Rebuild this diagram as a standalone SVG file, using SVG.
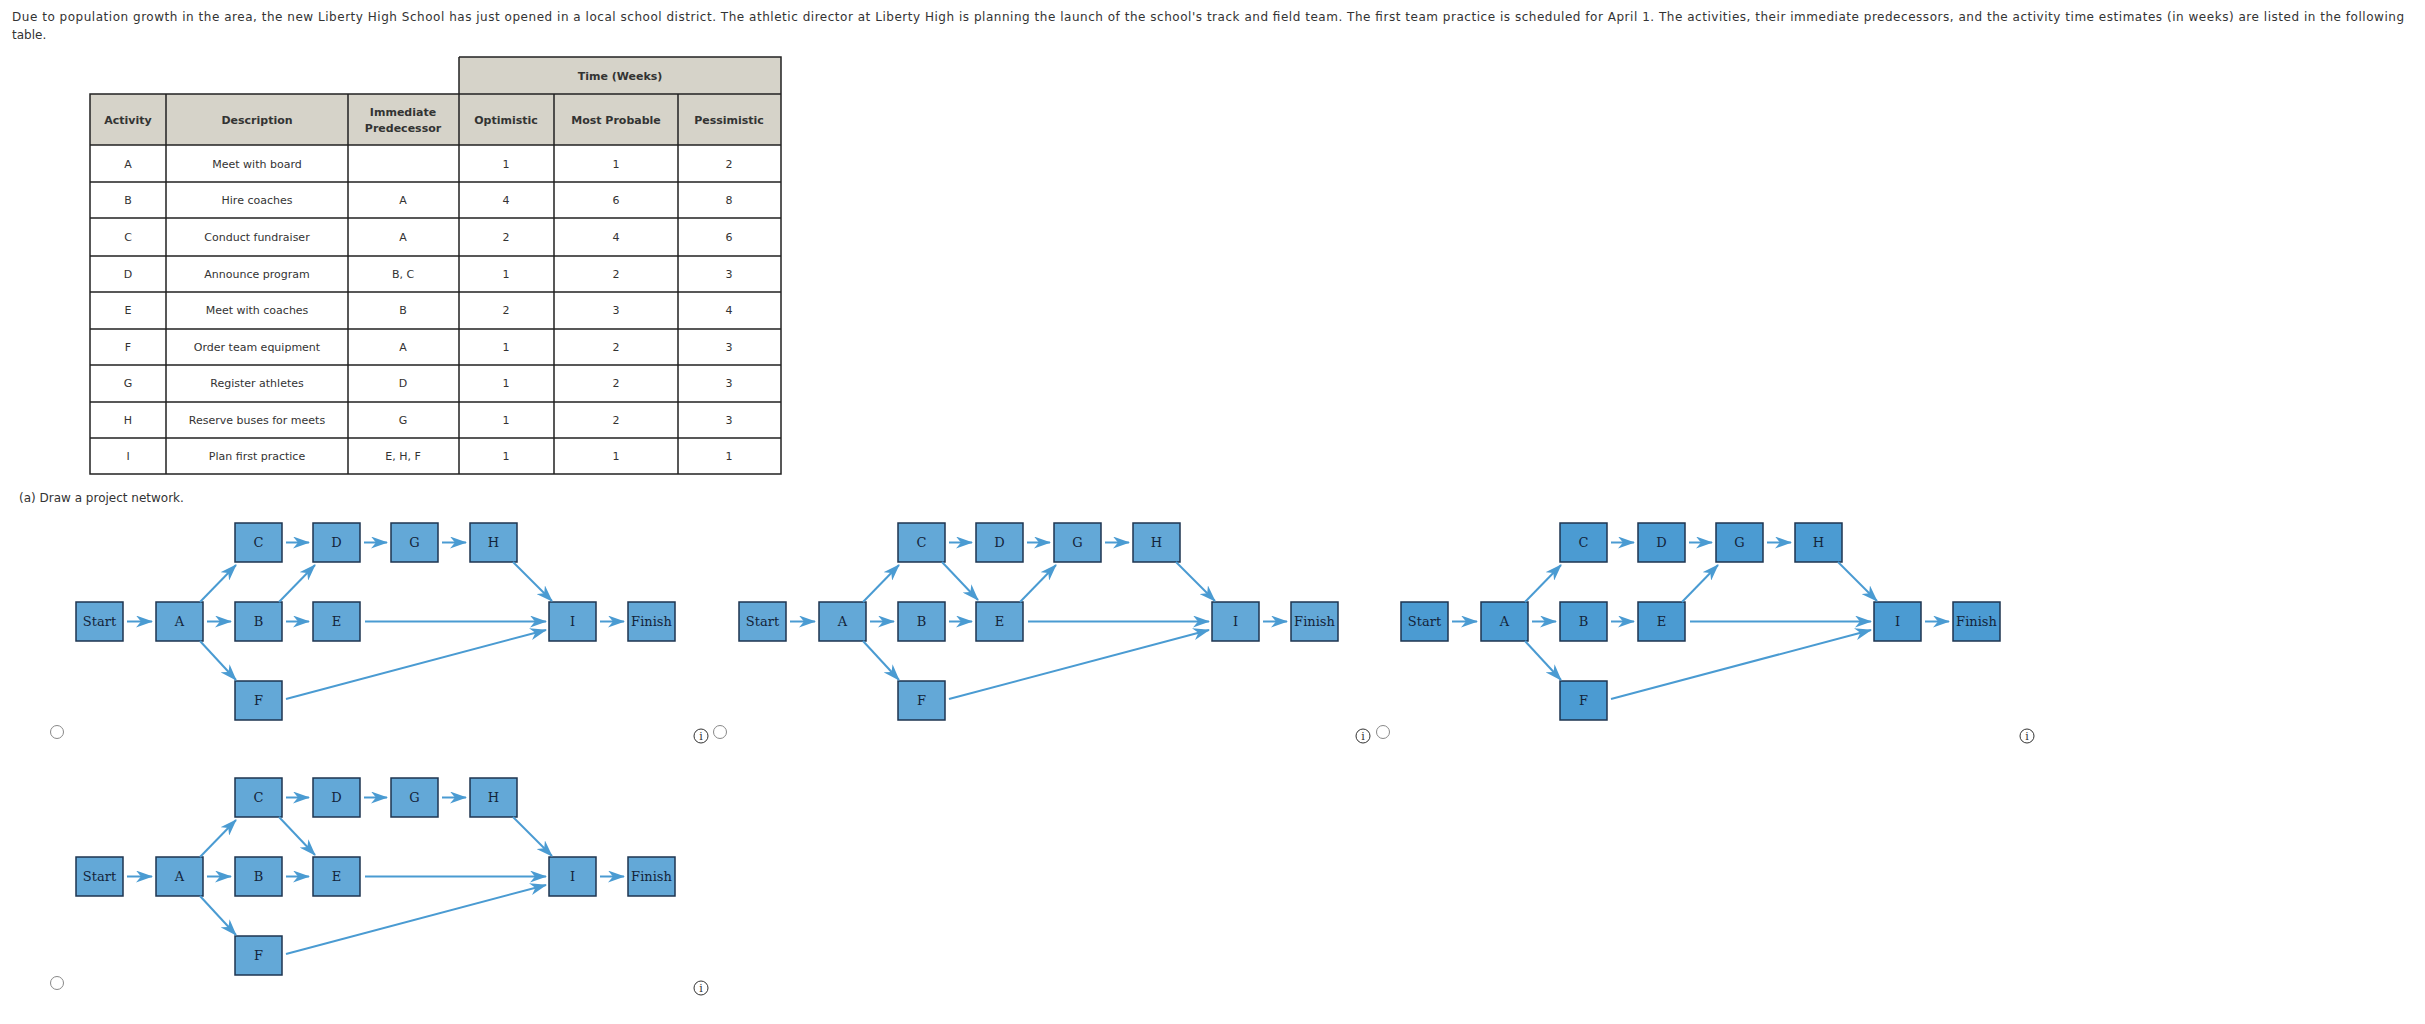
<svg xmlns="http://www.w3.org/2000/svg" width="2425" height="1024" viewBox="0 0 2425 1024">
<style>
.t{font-family:"DejaVu Sans",Verdana,sans-serif;font-size:12px;fill:#333}
.c{font-family:"DejaVu Sans",Verdana,sans-serif;font-size:11px;fill:#333;text-anchor:middle}
.h{font-family:"DejaVu Sans",Verdana,sans-serif;font-size:11px;font-weight:bold;fill:#333;text-anchor:middle}
.grid{stroke:#222;stroke-width:1.5;fill:none}
.n rect{fill:#63a8d7;stroke:#1e3550;stroke-width:1.5}
.n3 rect{fill:#4b9bd2}
.n text{font-family:"DejaVu Serif","Liberation Serif",serif;font-size:13px;fill:#13243a;text-anchor:middle}
.e line{stroke:#4a9bd2;stroke-width:2;marker-end:url(#ah)}
.radio{fill:#fff;stroke:#888;stroke-width:1}
.info circle{fill:#fff;stroke:#333;stroke-width:1}
.info text{font-family:"DejaVu Serif",serif;font-size:11px;fill:#333;text-anchor:middle}
</style>
<defs>
<marker id="ah" markerUnits="userSpaceOnUse" markerWidth="18" markerHeight="12" refX="16" refY="6" orient="auto">
<path d="M0,0 L17,6 L0,12 L5,6 z" fill="#4a9bd2"/>
</marker>
<g id="nodesAll">
</g>
</defs>
<text class="t" x="12" y="21" textLength="2392" lengthAdjust="spacing">Due to population growth in the area, the new Liberty High School has just opened in a local school district. The athletic director at Liberty High is planning the launch of the school's track and field team. The first team practice is scheduled for April 1. The activities, their immediate predecessors, and the activity time estimates (in weeks) are listed in the following</text>
<text class="t" x="12" y="39">table.</text>

<g id="table">
<rect x="459" y="57" width="322" height="37" fill="#d6d3c9"/>
<rect x="90" y="94" width="691" height="51" fill="#d6d3c9"/>
<path class="grid" d="M459,57H781V474H90V94H781M90,145H781M90,182H781M90,218H781M90,256H781M90,292H781M90,329H781M90,365H781M90,402H781M90,438H781M166,94V474M348,94V474M459,57V474M554,94V474M678,94V474"/>
<text class="h" x="620" y="80">Time (Weeks)</text>
<text class="h" x="128" y="124">Activity</text>
<text class="h" x="257" y="124">Description</text>
<text class="h" x="403" y="116">Immediate</text>
<text class="h" x="403" y="132">Predecessor</text>
<text class="h" x="506" y="124">Optimistic</text>
<text class="h" x="616" y="124">Most Probable</text>
<text class="h" x="729" y="124">Pessimistic</text>
<g class="c">
<text class="c" x="128" y="168">A</text><text class="c" x="257" y="168">Meet with board</text><text class="c" x="506" y="168">1</text><text class="c" x="616" y="168">1</text><text class="c" x="729" y="168">2</text>
<text class="c" x="128" y="204">B</text><text class="c" x="257" y="204">Hire coaches</text><text class="c" x="403" y="204">A</text><text class="c" x="506" y="204">4</text><text class="c" x="616" y="204">6</text><text class="c" x="729" y="204">8</text>
<text class="c" x="128" y="241">C</text><text class="c" x="257" y="241">Conduct fundraiser</text><text class="c" x="403" y="241">A</text><text class="c" x="506" y="241">2</text><text class="c" x="616" y="241">4</text><text class="c" x="729" y="241">6</text>
<text class="c" x="128" y="278">D</text><text class="c" x="257" y="278">Announce program</text><text class="c" x="403" y="278">B, C</text><text class="c" x="506" y="278">1</text><text class="c" x="616" y="278">2</text><text class="c" x="729" y="278">3</text>
<text class="c" x="128" y="314">E</text><text class="c" x="257" y="314">Meet with coaches</text><text class="c" x="403" y="314">B</text><text class="c" x="506" y="314">2</text><text class="c" x="616" y="314">3</text><text class="c" x="729" y="314">4</text>
<text class="c" x="128" y="351">F</text><text class="c" x="257" y="351">Order team equipment</text><text class="c" x="403" y="351">A</text><text class="c" x="506" y="351">1</text><text class="c" x="616" y="351">2</text><text class="c" x="729" y="351">3</text>
<text class="c" x="128" y="387">G</text><text class="c" x="257" y="387">Register athletes</text><text class="c" x="403" y="387">D</text><text class="c" x="506" y="387">1</text><text class="c" x="616" y="387">2</text><text class="c" x="729" y="387">3</text>
<text class="c" x="128" y="424">H</text><text class="c" x="257" y="424">Reserve buses for meets</text><text class="c" x="403" y="424">G</text><text class="c" x="506" y="424">1</text><text class="c" x="616" y="424">2</text><text class="c" x="729" y="424">3</text>
<text class="c" x="128" y="460">I</text><text class="c" x="257" y="460">Plan first practice</text><text class="c" x="403" y="460">E, H, F</text><text class="c" x="506" y="460">1</text><text class="c" x="616" y="460">1</text><text class="c" x="729" y="460">1</text>
</g>
</g>

<text class="t" x="19" y="502">(a)   Draw a project network.</text>

<!-- Diagram 1 -->
<g transform="translate(76,523)">
<g id="d1-nodes" class="n">
<g id="d1-start"><rect x="0" y="79" width="47" height="39"/><text x="23.5" y="103">Start</text></g>
<g id="d1-A"><rect x="80" y="79" width="47" height="39"/><text x="103.5" y="103">A</text></g>
<g id="d1-C"><rect x="159" y="0" width="47" height="39"/><text x="182.5" y="24">C</text></g>
<g id="d1-B"><rect x="159" y="79" width="47" height="39"/><text x="182.5" y="103">B</text></g>
<g id="d1-F"><rect x="159" y="158" width="47" height="39"/><text x="182.5" y="182">F</text></g>
<g id="d1-D"><rect x="237" y="0" width="47" height="39"/><text x="260.5" y="24">D</text></g>
<g id="d1-E"><rect x="237" y="79" width="47" height="39"/><text x="260.5" y="103">E</text></g>
<g id="d1-G"><rect x="315" y="0" width="47" height="39"/><text x="338.5" y="24">G</text></g>
<g id="d1-H"><rect x="394" y="0" width="47" height="39"/><text x="417.5" y="24">H</text></g>
<g id="d1-I"><rect x="473" y="79" width="47" height="39"/><text x="496.5" y="103">I</text></g>
<g id="d1-finish"><rect x="552" y="79" width="47" height="39"/><text x="575.5" y="103">Finish</text></g>
</g>
<g id="d1-connectors" class="e">
<line x1="51" y1="98.5" x2="76" y2="98.5"/>
<line x1="131" y1="98.5" x2="155" y2="98.5"/>
<line x1="210" y1="98.5" x2="233" y2="98.5"/>
<line x1="210" y1="19.5" x2="233" y2="19.5"/>
<line x1="288" y1="19.5" x2="311" y2="19.5"/>
<line x1="366" y1="19.5" x2="390" y2="19.5"/>
<line x1="124" y1="79" x2="160" y2="42"/>
<line x1="124" y1="118" x2="160" y2="157"/>
<line x1="203" y1="79" x2="239" y2="42"/>
<line x1="437" y1="39" x2="476" y2="78"/>
<line x1="289" y1="98.5" x2="470" y2="98.5"/>
<line x1="210" y1="176" x2="470" y2="107"/>
<line x1="524" y1="98.5" x2="548" y2="98.5"/>
</g>
</g>

<!-- Diagram 2 -->
<g transform="translate(739,523)">
<g id="d2-nodes" class="n">
<g id="d2-start"><rect x="0" y="79" width="47" height="39"/><text x="23.5" y="103">Start</text></g>
<g id="d2-A"><rect x="80" y="79" width="47" height="39"/><text x="103.5" y="103">A</text></g>
<g id="d2-C"><rect x="159" y="0" width="47" height="39"/><text x="182.5" y="24">C</text></g>
<g id="d2-B"><rect x="159" y="79" width="47" height="39"/><text x="182.5" y="103">B</text></g>
<g id="d2-F"><rect x="159" y="158" width="47" height="39"/><text x="182.5" y="182">F</text></g>
<g id="d2-D"><rect x="237" y="0" width="47" height="39"/><text x="260.5" y="24">D</text></g>
<g id="d2-E"><rect x="237" y="79" width="47" height="39"/><text x="260.5" y="103">E</text></g>
<g id="d2-G"><rect x="315" y="0" width="47" height="39"/><text x="338.5" y="24">G</text></g>
<g id="d2-H"><rect x="394" y="0" width="47" height="39"/><text x="417.5" y="24">H</text></g>
<g id="d2-I"><rect x="473" y="79" width="47" height="39"/><text x="496.5" y="103">I</text></g>
<g id="d2-finish"><rect x="552" y="79" width="47" height="39"/><text x="575.5" y="103">Finish</text></g>
</g>
<g id="d2-connectors" class="e">
<line x1="51" y1="98.5" x2="76" y2="98.5"/>
<line x1="131" y1="98.5" x2="155" y2="98.5"/>
<line x1="210" y1="98.5" x2="233" y2="98.5"/>
<line x1="210" y1="19.5" x2="233" y2="19.5"/>
<line x1="288" y1="19.5" x2="311" y2="19.5"/>
<line x1="366" y1="19.5" x2="390" y2="19.5"/>
<line x1="124" y1="79" x2="160" y2="42"/>
<line x1="124" y1="118" x2="160" y2="157"/>
<line x1="203" y1="39" x2="239" y2="77"/>
<line x1="281" y1="79" x2="317" y2="42"/>
<line x1="437" y1="39" x2="476" y2="78"/>
<line x1="289" y1="98.5" x2="470" y2="98.5"/>
<line x1="210" y1="176" x2="470" y2="107"/>
<line x1="524" y1="98.5" x2="548" y2="98.5"/>
</g>
</g>

<!-- Diagram 3 -->
<g transform="translate(1401,523)">
<g id="d3-nodes" class="n n3">
<g id="d3-start"><rect x="0" y="79" width="47" height="39"/><text x="23.5" y="103">Start</text></g>
<g id="d3-A"><rect x="80" y="79" width="47" height="39"/><text x="103.5" y="103">A</text></g>
<g id="d3-C"><rect x="159" y="0" width="47" height="39"/><text x="182.5" y="24">C</text></g>
<g id="d3-B"><rect x="159" y="79" width="47" height="39"/><text x="182.5" y="103">B</text></g>
<g id="d3-F"><rect x="159" y="158" width="47" height="39"/><text x="182.5" y="182">F</text></g>
<g id="d3-D"><rect x="237" y="0" width="47" height="39"/><text x="260.5" y="24">D</text></g>
<g id="d3-E"><rect x="237" y="79" width="47" height="39"/><text x="260.5" y="103">E</text></g>
<g id="d3-G"><rect x="315" y="0" width="47" height="39"/><text x="338.5" y="24">G</text></g>
<g id="d3-H"><rect x="394" y="0" width="47" height="39"/><text x="417.5" y="24">H</text></g>
<g id="d3-I"><rect x="473" y="79" width="47" height="39"/><text x="496.5" y="103">I</text></g>
<g id="d3-finish"><rect x="552" y="79" width="47" height="39"/><text x="575.5" y="103">Finish</text></g>
</g>
<g id="d3-connectors" class="e">
<line x1="51" y1="98.5" x2="76" y2="98.5"/>
<line x1="131" y1="98.5" x2="155" y2="98.5"/>
<line x1="210" y1="98.5" x2="233" y2="98.5"/>
<line x1="210" y1="19.5" x2="233" y2="19.5"/>
<line x1="288" y1="19.5" x2="311" y2="19.5"/>
<line x1="366" y1="19.5" x2="390" y2="19.5"/>
<line x1="124" y1="79" x2="160" y2="42"/>
<line x1="124" y1="118" x2="160" y2="157"/>
<line x1="281" y1="79" x2="317" y2="42"/>
<line x1="437" y1="39" x2="476" y2="78"/>
<line x1="289" y1="98.5" x2="470" y2="98.5"/>
<line x1="210" y1="176" x2="470" y2="107"/>
<line x1="524" y1="98.5" x2="548" y2="98.5"/>
</g>
</g>

<!-- Diagram 4 -->
<g transform="translate(76,778)">
<g id="d4-nodes" class="n">
<g id="d4-start"><rect x="0" y="79" width="47" height="39"/><text x="23.5" y="103">Start</text></g>
<g id="d4-A"><rect x="80" y="79" width="47" height="39"/><text x="103.5" y="103">A</text></g>
<g id="d4-C"><rect x="159" y="0" width="47" height="39"/><text x="182.5" y="24">C</text></g>
<g id="d4-B"><rect x="159" y="79" width="47" height="39"/><text x="182.5" y="103">B</text></g>
<g id="d4-F"><rect x="159" y="158" width="47" height="39"/><text x="182.5" y="182">F</text></g>
<g id="d4-D"><rect x="237" y="0" width="47" height="39"/><text x="260.5" y="24">D</text></g>
<g id="d4-E"><rect x="237" y="79" width="47" height="39"/><text x="260.5" y="103">E</text></g>
<g id="d4-G"><rect x="315" y="0" width="47" height="39"/><text x="338.5" y="24">G</text></g>
<g id="d4-H"><rect x="394" y="0" width="47" height="39"/><text x="417.5" y="24">H</text></g>
<g id="d4-I"><rect x="473" y="79" width="47" height="39"/><text x="496.5" y="103">I</text></g>
<g id="d4-finish"><rect x="552" y="79" width="47" height="39"/><text x="575.5" y="103">Finish</text></g>
</g>
<g id="d4-connectors" class="e">
<line x1="51" y1="98.5" x2="76" y2="98.5"/>
<line x1="131" y1="98.5" x2="155" y2="98.5"/>
<line x1="210" y1="98.5" x2="233" y2="98.5"/>
<line x1="210" y1="19.5" x2="233" y2="19.5"/>
<line x1="288" y1="19.5" x2="311" y2="19.5"/>
<line x1="366" y1="19.5" x2="390" y2="19.5"/>
<line x1="124" y1="79" x2="160" y2="42"/>
<line x1="124" y1="118" x2="160" y2="157"/>
<line x1="203" y1="39" x2="239" y2="77"/>
<line x1="437" y1="39" x2="476" y2="78"/>
<line x1="289" y1="98.5" x2="470" y2="98.5"/>
<line x1="210" y1="176" x2="470" y2="107"/>
<line x1="524" y1="98.5" x2="548" y2="98.5"/>
</g>
</g>

<g id="controls">
<circle class="radio" cx="57" cy="732" r="6.5"/>
<circle class="radio" cx="720" cy="732" r="6.5"/>
<circle class="radio" cx="1383" cy="732" r="6.5"/>
<circle class="radio" cx="57" cy="983" r="6.5"/>
<g class="info"><circle cx="701" cy="736" r="7"/><text x="701" y="740">i</text></g>
<g class="info"><circle cx="1363" cy="736" r="7"/><text x="1363" y="740">i</text></g>
<g class="info"><circle cx="2027" cy="736" r="7"/><text x="2027" y="740">i</text></g>
<g class="info"><circle cx="701" cy="988" r="7"/><text x="701" y="992">i</text></g>
</g>
</svg>
